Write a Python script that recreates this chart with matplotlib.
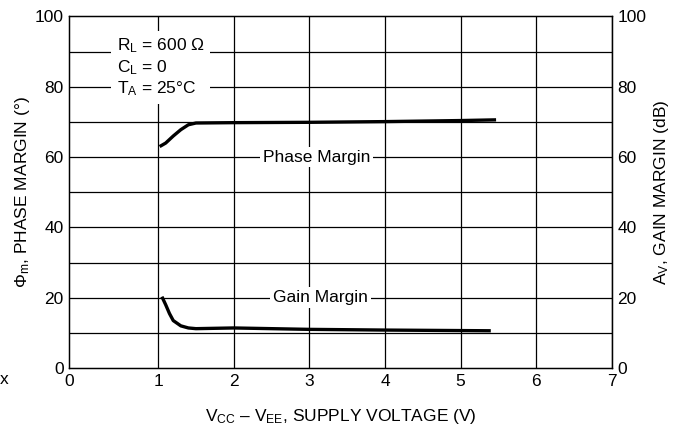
import matplotlib
matplotlib.use("Agg")
from matplotlib import pyplot as plt

# supply voltage (V) and margins
phase_v = [1.02, 1.1, 1.2, 1.3, 1.4, 1.5, 2.0, 3.0, 4.0, 5.0, 5.47]
phase_deg = [63.0, 64.0, 66.0, 67.8, 69.2, 69.7, 69.8, 69.9, 70.1, 70.4, 70.6]

gain_v = [1.05, 1.1, 1.15, 1.2, 1.3, 1.4, 1.5, 2.0, 3.0, 4.0, 5.4]
gain_db = [20.3, 18.0, 15.5, 13.5, 12.0, 11.4, 11.2, 11.4, 11.0, 10.8, 10.6]

xtick_vals = [1, 2, 3, 4, 5, 6, 7]
ytick_vals = [0, 20, 40, 60, 80, 100]

fam = "Liberation Sans"
plt.rcParams["font.family"] = [fam, "DejaVu Sans"]
plt.rcParams["mathtext.fontset"] = "custom"
plt.rcParams["mathtext.rm"] = fam
plt.rcParams["mathtext.it"] = fam

fig = plt.figure(figsize=(6.82, 4.34), dpi=100)
ax = fig.add_axes([0.1016, 0.152, 0.7954, 0.810])

xmin = -0.175  # the printed chart has the 0 V edge slightly stretched
ax.set_xlim(xmin, 7)
ax.set_ylim(0, 100)

# grid
for xv in xtick_vals:
    ax.axvline(xv, color="black", lw=0.9, zorder=1)
for yv in range(10, 100, 10):
    ax.axhline(yv, color="black", lw=0.9, zorder=1)
for s in ax.spines.values():
    s.set_linewidth(1.0)

ax.plot(phase_v, phase_deg, color="black", lw=2.4, solid_capstyle="butt", zorder=3)
ax.plot(gain_v, gain_db, color="black", lw=2.4, solid_capstyle="butt", zorder=3)

fs = 12.5
ax.set_xticks([xmin] + xtick_vals)
ax.set_xticklabels(["0"] + [str(v) for v in xtick_vals], fontsize=fs)
ax.set_yticks(ytick_vals)
ax.set_yticklabels([str(v) for v in ytick_vals], fontsize=fs)
ax.tick_params(length=0, pad=4)

ax2 = ax.twinx()
ax2.set_ylim(0, 100)
ax2.set_yticks(ytick_vals)
ax2.set_yticklabels([str(v) for v in ytick_vals], fontsize=fs)
ax2.tick_params(length=0, pad=4)
ax2.set_ylabel(r"A$_V$, GAIN MARGIN (dB)", fontsize=fs, labelpad=4)

ax.set_ylabel(r"$\Phi$$_m$, PHASE MARGIN ($\degree$)", fontsize=fs, labelpad=2)
ax.set_xlabel(r"V$_{CC}$ – V$_{EE}$, SUPPLY VOLTAGE (V)", fontsize=fs, labelpad=13)

box = dict(facecolor="white", edgecolor="none", pad=2)
ax.text(3.1, 60, "Phase Margin", fontsize=fs, ha="center", va="center", bbox=box, zorder=4)
ax.text(3.15, 20, "Gain Margin", fontsize=fs, ha="center", va="center", bbox=box, zorder=4)
ax.text(0.45, 85.5, "R$_L$ = 600 Ω\nC$_L$ = 0\nT$_A$ = 25°C", fontsize=fs,
        ha="left", va="center", linespacing=1.2,
        bbox=dict(facecolor="white", edgecolor="none", pad=4), zorder=4)

fig.text(0.0, 0.115, "x", fontsize=fs)

fig.savefig("out.png", dpi=100)
